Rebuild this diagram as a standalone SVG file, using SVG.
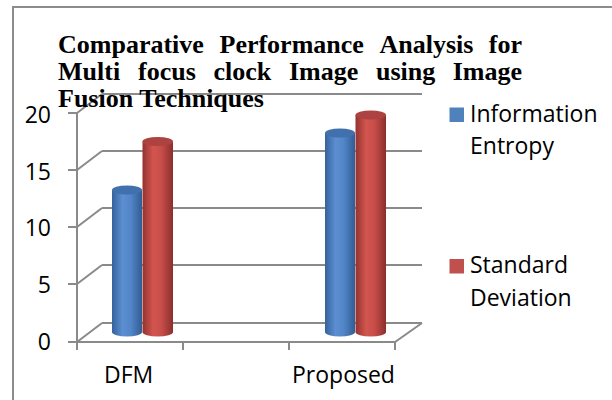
<svg xmlns="http://www.w3.org/2000/svg" width="612" height="400" viewBox="0 0 612 400">
  <style>
    .frame { fill: none; stroke: #8c8c8c; stroke-width: 2; }
    .grid { fill: none; stroke: #8a8a8a; stroke-width: 2; }
    .title { font-family: "Liberation Serif", "Times New Roman", serif; font-weight: bold; font-size: 26px; fill: #000; }
    .lbl { font-family: "Open Sans", "Noto Sans", sans-serif; font-size: 23px; fill: #000; }
    .top-blue { fill: #4170ad; }
    .top-red { fill: #ad4341; }
  </style>
  <defs>
    <linearGradient id="gBlue" x1="0" y1="0" x2="1" y2="0">
      <stop offset="0" stop-color="#35629b"/>
      <stop offset="0.35" stop-color="#5b8fd2"/>
      <stop offset="0.62" stop-color="#5286c9"/>
      <stop offset="1" stop-color="#325c93"/>
    </linearGradient>
    <linearGradient id="gRed" x1="0" y1="0" x2="1" y2="0">
      <stop offset="0" stop-color="#93322f"/>
      <stop offset="0.35" stop-color="#d3554f"/>
      <stop offset="0.62" stop-color="#c84d49"/>
      <stop offset="1" stop-color="#8a2f2c"/>
    </linearGradient>
  </defs>

  <rect width="612" height="400" fill="#fff"/>
  <path class="frame" d="M13 400 V7 H612"/>

  <!-- 3D walls: back gridlines, depth diagonals, axis and ticks -->
  <g id="axes">
    <path class="grid" d="M102 94 H422 M102 151 H422 M102 208 H422 M102 265 H422 M102 323 H422"/>
    <path class="grid" d="M77 113 L102 94 M77 170 L102 151 M77 227 L102 208 M77 284 L102 265 M77 342 L102 323"/>
    <path class="grid" d="M77 342 H395 L422 323"/>
    <path class="grid" d="M77 112 V343"/>
    <path class="grid" d="M68 113 H77 M68 170 H77 M68 227 H77 M68 284 H77 M68 342 H77"/>
    <path class="grid" d="M77 342 V350 M183 342 V350 M289 342 V350 M395 342 V350"/>
  </g>

  <g id="y-labels" class="lbl" text-anchor="end">
    <text x="51" y="123">20</text>
    <text x="51" y="180">15</text>
    <text x="51" y="236">10</text>
    <text x="51" y="293">5</text>
    <text x="51" y="350">0</text>
  </g>

  <!-- cylinders -->
  <g id="bar-dfm-entropy">
    <path fill="url(#gBlue)" d="M112 190 V332 A15 4.5 0 0 0 142 332 V190 Z"/>
    <ellipse class="top-blue" cx="127" cy="190" rx="15" ry="4.5"/>
  </g>
  <g id="bar-dfm-deviation">
    <path fill="url(#gRed)" d="M142.5 141.5 V332 A15.25 4.5 0 0 0 173 332 V141.5 Z"/>
    <ellipse class="top-red" cx="157.75" cy="141.5" rx="15.25" ry="4.5"/>
  </g>
  <g id="bar-proposed-entropy">
    <path fill="url(#gBlue)" d="M325 133 V332 A15 4.5 0 0 0 355 332 V133 Z"/>
    <ellipse class="top-blue" cx="340" cy="133" rx="15" ry="4.5"/>
  </g>
  <g id="bar-proposed-deviation">
    <path fill="url(#gRed)" d="M355.5 115 V332 A15.25 4.5 0 0 0 386 332 V115 Z"/>
    <ellipse class="top-red" cx="370.75" cy="115" rx="15.25" ry="4.5"/>
  </g>

  <g id="x-labels" class="lbl">
    <text x="104" y="383">DFM</text>
    <text x="292" y="383">Proposed</text>
  </g>

  <!-- justified title -->
  <g id="title" class="title">
    <text x="58" y="53">Comparative</text>
    <text x="219.5" y="53">Performance</text>
    <text x="379.5" y="53">Analysis</text>
    <text x="522" y="53" text-anchor="end">for</text>
    <text x="58" y="80">Multi</text>
    <text x="138" y="80">focus</text>
    <text x="213.5" y="80">clock</text>
    <text x="289" y="80">Image</text>
    <text x="376" y="80">using</text>
    <text x="522" y="80" text-anchor="end">Image</text>
    <text x="58" y="107">Fusion Techniques</text>
  </g>

  <g id="legend" class="lbl">
    <g id="legend-entropy">
      <rect x="449.5" y="107.5" width="14.5" height="14.5" fill="#4f81bd"/>
      <text x="470" y="122">Information</text>
      <text x="470" y="154">Entropy</text>
    </g>
    <g id="legend-deviation">
      <rect x="449.5" y="259" width="14.5" height="14.5" fill="#c0504d"/>
      <text x="470" y="273">Standard</text>
      <text x="470" y="306">Deviation</text>
    </g>
  </g>
</svg>
